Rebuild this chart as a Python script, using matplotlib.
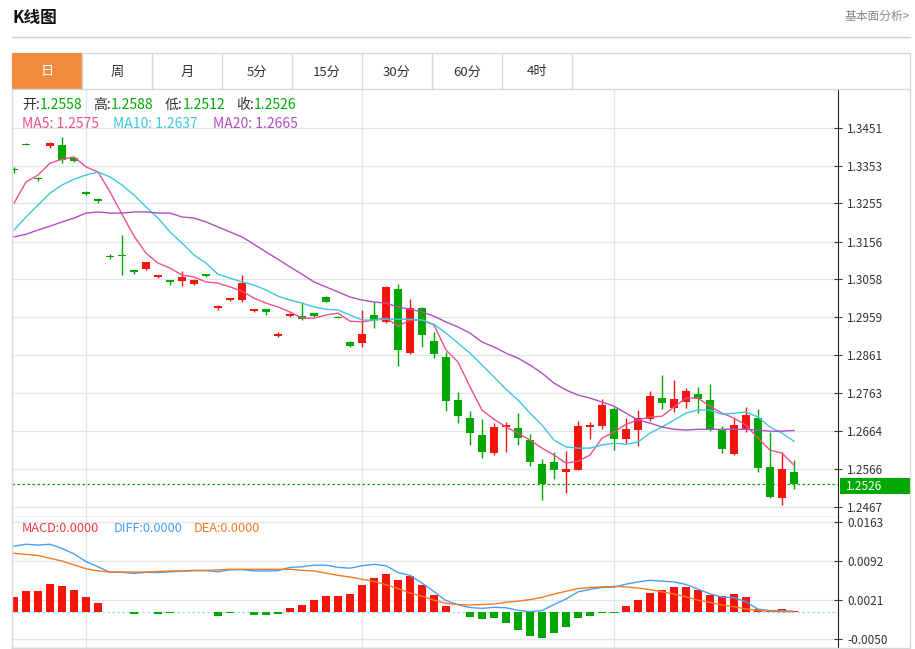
import numpy as np
import matplotlib
matplotlib.use("Agg")
import matplotlib.pyplot as plt
from matplotlib.patches import Rectangle

plt.rcParams['font.family'] = ['Noto Sans CJK SC', 'DejaVu Sans']

# daily candles (open, high, low, close)
opens = [1.3344, 1.3409, 1.3321, 1.3404, 1.3407, 1.3373, 1.3285, 1.3266, 1.3118, 1.3121,
         1.3082, 1.3084, 1.3064, 1.3056, 1.3053, 1.3045, 1.3071, 1.2983, 1.3003, 1.3003,
         1.2975, 1.2980, 1.2910, 1.2962, 1.2962, 1.2970, 1.3012, 1.2960, 1.2895, 1.2892,
         1.2965, 1.2947, 1.3032, 1.2866, 1.2983, 1.2897, 1.2856, 1.2744, 1.2697, 1.2653,
         1.2606, 1.2674, 1.2671, 1.2640, 1.2578, 1.2583, 1.2557, 1.2562, 1.2674, 1.2676,
         1.2720, 1.2642, 1.2666, 1.2694, 1.2749, 1.2723, 1.2739, 1.2759, 1.2744, 1.2668,
         1.2603, 1.2668, 1.2697, 1.2570, 1.2489, 1.2558]
highs = [1.3350, 1.3412, 1.3324, 1.3415, 1.3428, 1.3376, 1.3287, 1.3269, 1.3123, 1.3173,
         1.3082, 1.3104, 1.3070, 1.3057, 1.3079, 1.3058, 1.3072, 1.2991, 1.3010, 1.3069,
         1.2981, 1.2981, 1.2921, 1.2970, 1.3000, 1.2971, 1.3014, 1.2962, 1.2897, 1.2978,
         1.3000, 1.3040, 1.3045, 1.3006, 1.2986, 1.2921, 1.2869, 1.2765, 1.2715, 1.2694,
         1.2684, 1.2687, 1.2710, 1.2655, 1.2590, 1.2609, 1.2611, 1.2689, 1.2687, 1.2746,
         1.2726, 1.2697, 1.2718, 1.2767, 1.2809, 1.2796, 1.2775, 1.2778, 1.2785, 1.2676,
         1.2697, 1.2726, 1.2720, 1.2661, 1.2609, 1.2588]
lows = [1.3334, 1.3406, 1.3313, 1.3399, 1.3360, 1.3363, 1.3277, 1.3256, 1.3110, 1.3069,
        1.3071, 1.3083, 1.3061, 1.3043, 1.3040, 1.3044, 1.3064, 1.2978, 1.3002, 1.3000,
        1.2973, 1.2965, 1.2908, 1.2960, 1.2952, 1.2961, 1.2998, 1.2957, 1.2883, 1.2882,
        1.2931, 1.2944, 1.2832, 1.2865, 1.2882, 1.2853, 1.2715, 1.2684, 1.2627, 1.2593,
        1.2601, 1.2609, 1.2627, 1.2572, 1.2484, 1.2538, 1.2502, 1.2561, 1.2642, 1.2668,
        1.2614, 1.2632, 1.2625, 1.2689, 1.2720, 1.2713, 1.2723, 1.2710, 1.2663, 1.2606,
        1.2601, 1.2661, 1.2557, 1.2489, 1.2471, 1.2512]
closes = [1.3342, 1.3408, 1.3318, 1.3412, 1.3368, 1.3365, 1.3279, 1.3261, 1.3116, 1.3118,
          1.3077, 1.3103, 1.3069, 1.3051, 1.3064, 1.3056, 1.3066, 1.2988, 1.3009, 1.3048,
          1.2980, 1.2973, 1.2915, 1.2967, 1.2954, 1.2962, 1.2999, 1.2958, 1.2884, 1.2915,
          1.2952, 1.3038, 1.2874, 1.2983, 1.2913, 1.2863, 1.2741, 1.2702, 1.2658, 1.2609,
          1.2674, 1.2679, 1.2645, 1.2583, 1.2526, 1.2562, 1.2564, 1.2676, 1.2679, 1.2731,
          1.2642, 1.2668, 1.2697, 1.2754, 1.2736, 1.2746, 1.2767, 1.2746, 1.2668, 1.2616,
          1.2679, 1.2705, 1.2567, 1.2492, 1.2564, 1.2526]

ma5 = [1.3256, 1.3311, 1.3329, 1.3360, 1.3370, 1.3376, 1.3350, 1.3337, 1.3285, 1.3227,
       1.3170, 1.3126, 1.3100, 1.3087, 1.3069, 1.3064, 1.3051, 1.3048, 1.3038, 1.3027,
       1.3009, 1.2996, 1.2986, 1.2973, 1.2957, 1.2957, 1.2965, 1.2970, 1.2949, 1.2947,
       1.2952, 1.2957, 1.2936, 1.2952, 1.2952, 1.2939, 1.2874, 1.2843, 1.2778, 1.2718,
       1.2694, 1.2674, 1.2658, 1.2640, 1.2619, 1.2601, 1.2580, 1.2585, 1.2601, 1.2645,
       1.2661, 1.2681, 1.2692, 1.2700, 1.2702, 1.2726, 1.2749, 1.2749, 1.2728, 1.2710,
       1.2697, 1.2679, 1.2645, 1.2614, 1.2606, 1.2575]
ma10 = [1.3186, 1.3220, 1.3251, 1.3282, 1.3303, 1.3318, 1.3329, 1.3337, 1.3324, 1.3303,
        1.3277, 1.3246, 1.3217, 1.3181, 1.3152, 1.3121, 1.3100, 1.3071, 1.3061, 1.3051,
        1.3043, 1.3030, 1.3014, 1.3004, 1.2996, 1.2986, 1.2980, 1.2978, 1.2965, 1.2952,
        1.2952, 1.2954, 1.2954, 1.2954, 1.2952, 1.2941, 1.2918, 1.2892, 1.2866, 1.2835,
        1.2804, 1.2772, 1.2744, 1.2710, 1.2679, 1.2640, 1.2622, 1.2619, 1.2619, 1.2627,
        1.2632, 1.2629, 1.2635, 1.2658, 1.2674, 1.2692, 1.2710, 1.2718, 1.2718, 1.2707,
        1.2710, 1.2713, 1.2700, 1.2674, 1.2658, 1.2637]
ma20 = [1.3168, 1.3175, 1.3186, 1.3196, 1.3207, 1.3217, 1.3230, 1.3233, 1.3230, 1.3230,
        1.3233, 1.3233, 1.3230, 1.3230, 1.3220, 1.3217, 1.3207, 1.3194, 1.3181, 1.3168,
        1.3149, 1.3129, 1.3110, 1.3090, 1.3071, 1.3051, 1.3038, 1.3025, 1.3012, 1.3004,
        1.2999, 1.2996, 1.2986, 1.2980, 1.2973, 1.2962, 1.2947, 1.2934, 1.2918, 1.2895,
        1.2882, 1.2866, 1.2853, 1.2835, 1.2814, 1.2788, 1.2770, 1.2757, 1.2749, 1.2739,
        1.2728, 1.2710, 1.2692, 1.2684, 1.2674, 1.2668, 1.2666, 1.2668, 1.2668, 1.2668,
        1.2668, 1.2668, 1.2666, 1.2663, 1.2663, 1.2665]

macd = [0.0026, 0.0037, 0.0038, 0.0051, 0.0046, 0.0040, 0.0026, 0.0015, -0.0001, -0.0001,
        -0.0005, -0.0001, -0.0004, -0.0003, -0.0001, -0.0001, -0.0001, -0.0007, -0.0002, -0.0001,
        -0.0006, -0.0006, -0.0005, 0.0007, 0.0013, 0.0021, 0.0029, 0.0029, 0.0032, 0.0049,
        0.0062, 0.0069, 0.0058, 0.0064, 0.0048, 0.0031, 0.0010, -0.0001, -0.0009, -0.0014,
        -0.0012, -0.0020, -0.0033, -0.0044, -0.0048, -0.0038, -0.0028, -0.0012, -0.0007, -0.0002,
        -0.0003, 0.0010, 0.0022, 0.0034, 0.0039, 0.0044, 0.0045, 0.0040, 0.0031, 0.0029,
        0.0033, 0.0026, 0.0005, 0.0002, 0.0004, 0.0001]
dea = [0.0106, 0.0104, 0.0102, 0.0097, 0.0092, 0.0085, 0.0078, 0.0074, 0.0072, 0.0072,
       0.0072, 0.0072, 0.0073, 0.0074, 0.0074, 0.0075, 0.0075, 0.0076, 0.0077, 0.0077,
       0.0077, 0.0077, 0.0077, 0.0077, 0.0075, 0.0074, 0.0070, 0.0066, 0.0063, 0.0059,
       0.0055, 0.0049, 0.0042, 0.0034, 0.0028, 0.0021, 0.0015, 0.0013, 0.0012, 0.0013,
       0.0014, 0.0017, 0.0019, 0.0022, 0.0026, 0.0032, 0.0037, 0.0042, 0.0044, 0.0045,
       0.0046, 0.0045, 0.0043, 0.0040, 0.0036, 0.0032, 0.0027, 0.0021, 0.0017, 0.0012,
       0.0009, 0.0005, 0.0002, 0.0001, 0.0000, 0.0000]

price_ticks = [1.3451, 1.3353, 1.3255, 1.3156, 1.3058, 1.2959, 1.2861, 1.2763, 1.2664, 1.2566, 1.2467]
macd_ticks = [0.0163, 0.0092, 0.0021, -0.0050]
tabs = ['日', '周', '月', '5分', '15分', '30分', '60分', '4时']
last_price = 1.2526

RED = '#f5150d'
GREEN = '#00a800'
GRID = '#dde6ee'

W, H = 915, 649
fig = plt.figure(figsize=(W / 100, H / 100), dpi=100)


def box(x0, y0, x1, y1):
    return [x0 / W, 1 - y1 / H, (x1 - x0) / W, (y1 - y0) / H]


# header
fig.text(12 / W, 1 - 18 / H, 'K线图', fontsize=12, fontweight='bold', va='center', color='#111')
fig.text(910 / W, 1 - 16 / H, '基本面分析>', fontsize=8.5, va='center', ha='right', color='#888')
fig.add_artist(plt.Line2D([12 / W, 910 / W], [1 - 37 / H] * 2, color='#cccccc', lw=1))

# frame and tabs
fig.add_artist(Rectangle((12 / W, 1 - 648 / H), 898 / W, 595 / H, fill=False, ec='#d8d8d8', lw=1))
fig.add_artist(plt.Line2D([12 / W, 910 / W], [1 - 89 / H] * 2, color='#d8d8d8', lw=1))
for k, t in enumerate(tabs):
    x0 = 12 + 70 * k
    if k == 0:
        fig.add_artist(Rectangle((x0 / W, 1 - 89 / H), 70 / W, 36 / H, fc='#f28b3c', ec='none'))
    fig.add_artist(plt.Line2D([(x0 + 70) / W] * 2, [1 - 89 / H, 1 - 53 / H], color='#d8d8d8', lw=1))
    fig.text((x0 + 35) / W, 1 - 72 / H, t, fontsize=9.5, ha='center', va='center',
             color='white' if k == 0 else '#333')

# main candle chart
ax = fig.add_axes(box(12, 90, 838, 517))
idx = np.arange(len(closes))
o, h, l, c = map(np.array, (opens, highs, lows, closes))
up = c >= o
cols = np.where(up, RED, GREEN)
ax.vlines(idx, l, h, colors=cols, lw=1, zorder=3)
body = np.maximum(np.abs(c - o), 0.00012)
ax.bar(idx, body, bottom=np.minimum(o, c), width=0.72, color=cols, zorder=3)
ax.plot(idx, ma5, color='#f0508c', lw=1, zorder=4)
ax.plot(idx, ma10, color='#3cc8e0', lw=1, zorder=4)
ax.plot(idx, ma20, color='#b050c0', lw=1, zorder=4)
ax.axhline(last_price, color=GREEN, ls=(0, (2, 2)), lw=0.9, zorder=2)
ax.set_xlim(-0.17, 68.67)
ax.set_ylim(1.2440, 1.3550)
ax.set_yticks(price_ticks)
ax.set_yticklabels([f'{v:.4f}' for v in price_ticks])
ax.yaxis.tick_right()
ax.tick_params(axis='y', labelsize=8.5, colors='#333', length=6, width=0.8, direction='inout')
ax.set_xticks([6, 29, 50])
ax.tick_params(axis='x', length=0, labelbottom=False)
ax.grid(True, color=GRID, lw=0.9, zorder=0)
for s in ['top', 'left']:
    ax.spines[s].set_visible(False)
ax.spines['right'].set_color('#222')
ax.spines['bottom'].set_color('#222')

# last price tag
fig.add_artist(Rectangle((840 / W, 1 - 494 / H), 70 / W, 16 / H, fc=GREEN, ec='none'))
fig.text(846 / W, 1 - 486 / H, f'{last_price:.4f}', fontsize=8.5, color='white', va='center')


# legends at fixed pixel positions
def legend(y, parts, size=10):
    for x, txt, col in parts:
        fig.text(x / W, 1 - y / H, txt, color=col, fontsize=size, va='center')


legend(105, [(22, '开:', '#333'), (40, '1.2558', GREEN), (93, '高:', '#333'), (111, '1.2588', GREEN),
             (165, '低:', '#333'), (183, '1.2512', GREEN), (236, '收:', '#333'), (254, '1.2526', GREEN)])
legend(124, [(22, 'MA5: 1.2575', '#f0508c'), (113, 'MA10: 1.2637', '#3cc8e0'),
             (213, 'MA20: 1.2665', '#b050c0')])

# MACD panel
ax2 = fig.add_axes(box(12, 517, 838, 648))
mv = np.array(macd)
ax2.bar(idx, mv, width=0.72, color=np.where(mv >= 0, RED, GREEN), zorder=3)
diff = np.array(dea) + mv / 2
ax2.plot(idx, diff, color='#4aa0f0', lw=1, zorder=4)
ax2.plot(idx, dea, color='#f57a20', lw=1, zorder=4)
ax2.axhline(0, color='#9fd4ee', ls=(0, (2, 2)), lw=0.9, zorder=2)
ax2.set_xlim(-0.17, 68.67)
ax2.set_ylim(-0.0066, 0.0172)
ax2.set_yticks(macd_ticks)
ax2.set_yticklabels([f'{v:.4f}' for v in macd_ticks])
ax2.yaxis.tick_right()
ax2.tick_params(axis='y', labelsize=8.5, colors='#333', length=6, width=0.8, direction='inout')
ax2.set_xticks([6, 29, 50])
ax2.tick_params(axis='x', length=0, labelbottom=False)
ax2.grid(True, color=GRID, lw=0.9, zorder=0)
for s in ['top', 'left']:
    ax2.spines[s].set_visible(False)
ax2.spines['right'].set_color('#222')
ax2.spines['bottom'].set_color('#222')
legend(529, [(22, 'MACD:0.0000', '#f03c3c'), (114, 'DIFF:0.0000', '#4aa0f0'),
             (194, 'DEA:0.0000', '#f57a20')], size=9.2)

fig.savefig('out.png', dpi=100)
